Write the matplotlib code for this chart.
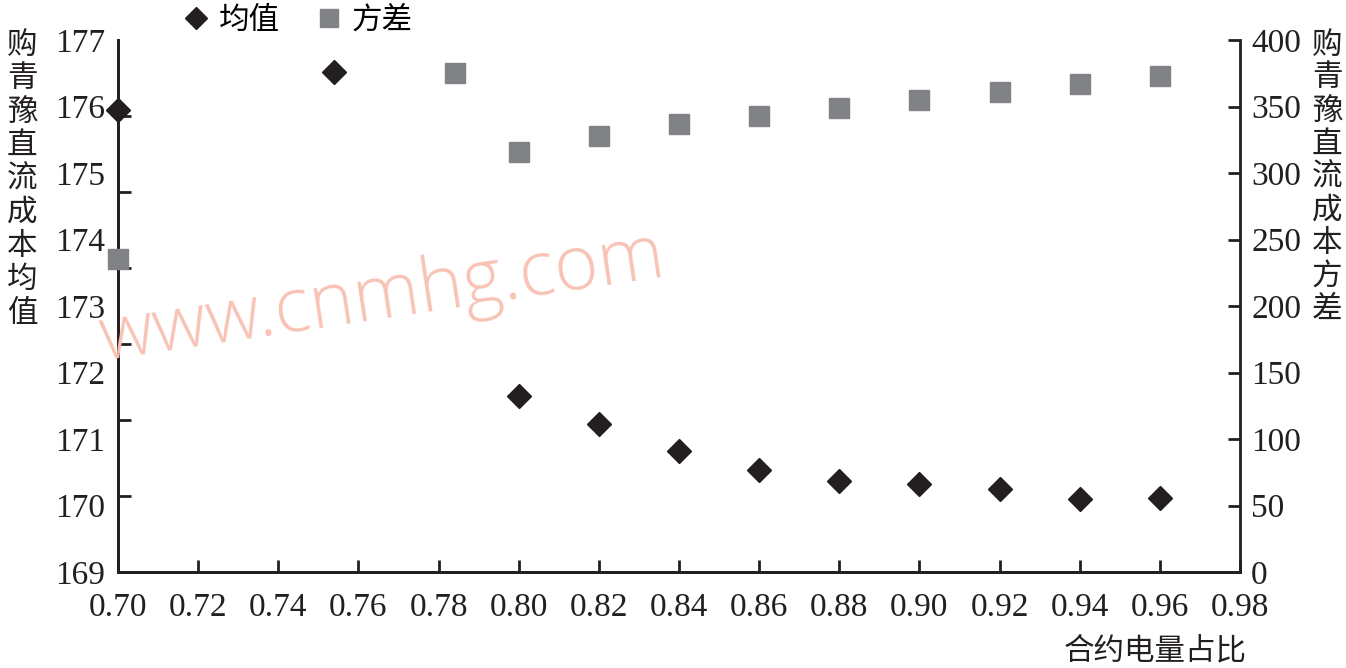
import numpy as np
import matplotlib
matplotlib.use("Agg")
import matplotlib.pyplot as plt
from matplotlib.lines import Line2D

plt.rcParams['font.family'] = ['Liberation Serif', 'Noto Sans CJK SC', 'DejaVu Sans']

# --- data
ratio_mean = [0.70, 0.754, 0.80, 0.82, 0.84, 0.86, 0.88, 0.90, 0.92, 0.94, 0.96]
cost_mean = [175.95, 176.52, 171.65, 171.23, 170.82, 170.53, 170.37, 170.32, 170.25, 170.10, 170.11]
ratio_var = [0.70, 0.784, 0.80, 0.82, 0.84, 0.86, 0.88, 0.90, 0.92, 0.94, 0.96]
cost_var = [235, 375, 315.5, 328, 337, 343, 349, 355, 361, 367, 373]

x_ticks = np.arange(0.70, 0.981, 0.02)
left_ticks = np.arange(169, 178, 1)
right_ticks = np.arange(0, 401, 50)

cjk = 'Noto Sans CJK SC'
left_label = '购青豫直流成本均值'
right_label = '购青豫直流成本方差'
x_label = '合约电量占比'

fig = plt.figure(figsize=(13.46, 6.68), dpi=100)
ax = fig.add_axes([118/1346, 96/668, 1122/1346, 532/668])
ax2 = ax.twinx()

ax.plot(ratio_mean, cost_mean, linestyle='none', marker='D', ms=12.5,
        color='#231f20', clip_on=False, zorder=5)
ax2.plot(ratio_var, cost_var, linestyle='none', marker='s', ms=14,
         color='#808285', clip_on=False, zorder=4)

ax.set_xlim(0.70, 0.98)
ax.set_ylim(169, 177)
ax2.set_ylim(0, 400)

ax.set_xticks(x_ticks)
ax.set_xticklabels([f'{v:.2f}' for v in x_ticks])
ax.set_yticks(left_ticks)
ax.set_yticklabels([str(v) for v in left_ticks])
# the tick marks on the left axis sit on 7 equal steps, not on the labels
ax.set_yticks(np.linspace(169, 177, 8), minor=True)
ax2.set_yticks(right_ticks)
ax2.set_yticklabels([str(v) for v in right_ticks])

lw = 2.0
for a in (ax, ax2):
    a.spines['top'].set_visible(False)
    for s in ('left', 'right', 'bottom'):
        a.spines[s].set_linewidth(lw)
        a.spines[s].set_color('#231f20')
ax.spines['right'].set_visible(False)

ax.tick_params(axis='x', direction='in', length=9, width=lw, pad=15,
               labelsize=24, colors='#231f20')
ax.tick_params(axis='y', which='major', length=0, pad=9, labelsize=24,
               colors='#231f20')
ax.tick_params(axis='y', which='minor', direction='in', length=9, width=lw,
               color='#231f20')
ax2.tick_params(axis='y', direction='in', length=9, width=lw, pad=8,
                labelsize=24, colors='#231f20')

# stacked vertical axis titles
for i, ch in enumerate(left_label):
    fig.text(22/1346, 1 - (45 + i*33.5)/668, ch, family=cjk, fontsize=22,
             ha='center', va='center', color='#231f20')
for i, ch in enumerate(right_label):
    fig.text(1327/1346, 1 - (45 + i*33)/668, ch, family=cjk, fontsize=22,
             ha='center', va='center', color='#231f20')
fig.text(1155/1346, 1 - 651/668, x_label, family=cjk, fontsize=22,
         ha='center', va='center', color='#231f20')

handles = [Line2D([], [], linestyle='none', marker='D', ms=11, color='#231f20'),
           Line2D([], [], linestyle='none', marker='s', ms=13, color='#808285')]
fig.legend(handles, ['均值', '方差'], loc='center', bbox_to_anchor=(298/1346, 1 - 20/668),
           ncol=2, frameon=False, prop={'family': cjk, 'size': 22},
           handlelength=0.8, handletextpad=0.35, columnspacing=1.2)

# watermark
fig.text(383/1346, 1 - 298/668, 'www.cnmhg.com', family='Open Sans', fontweight='light',
         fontsize=54, color='#f8c2b4', rotation=8.5, ha='center', va='center', zorder=0)

fig.savefig('out.png', dpi=100)
